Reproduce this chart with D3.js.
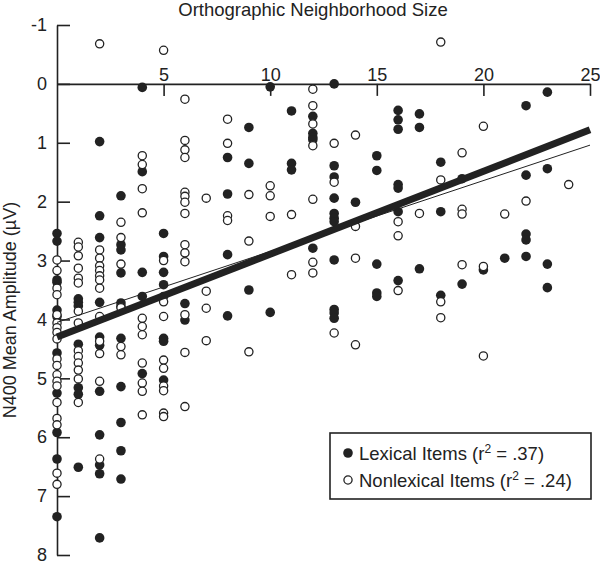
<!DOCTYPE html>
<html>
<head>
<meta charset="utf-8">
<script src="https://cdn.jsdelivr.net/npm/d3@7"></script>
<style>
  body { margin: 0; background: #fff; }
  text { font-family: "Liberation Sans", Arial, sans-serif; fill: #222; }
</style>
</head>
<body>
<div class="graphic"></div>
<script>
// [neighborhood size, N400 amplitude]
const lexical = [
  [0, 2.54], [0, 2.67], [0, 3.33], [0, 3.37], [0, 3.84], [0, 3.95], [0, 4.57], [0, 5.25], [0, 5.92], [0, 6.37], [0, 7.35],
  [1, 3.65], [1, 3.71], [1, 3.77], [1, 4.42], [1, 5.16], [1, 5.27], [1, 6.51],
  [2, 0.98], [2, 2.24], [2, 2.61], [2, 3.71], [2, 4.30], [2, 4.44], [2, 5.22], [2, 5.96], [2, 6.47], [2, 6.62], [2, 7.71],
  [3, 1.90], [3, 2.73], [3, 2.82], [3, 3.21], [3, 3.72], [3, 3.78], [3, 4.32], [3, 5.14], [3, 5.75], [3, 6.23], [3, 6.71],
  [4, 0.06], [4, 1.49], [4, 3.20], [4, 3.61], [4, 4.92],
  [5, 2.54], [5, 2.93], [5, 3.20], [5, 3.41], [5, 4.32], [5, 4.37], [5, 5.03],
  [6, 3.73], [6, 4.01],
  [8, 1.25], [8, 1.87], [8, 2.90], [8, 3.94],
  [9, 0.74], [9, 1.35], [9, 3.50],
  [10, 0.05], [10, 3.88],
  [11, 0.46], [11, 1.35], [11, 1.46],
  [12, 0.55], [12, 0.84], [12, 0.91], [12, 0.95], [12, 2.79],
  [13, 0.00], [13, 1.39], [13, 1.58], [13, 1.94], [13, 2.20], [13, 2.28], [13, 2.34], [13, 2.99], [13, 3.83], [13, 3.89], [13, 3.98],
  [14, 2.01],
  [15, 1.22], [15, 1.47], [15, 3.06], [15, 3.55], [15, 3.61],
  [16, 0.45], [16, 0.61], [16, 0.77], [16, 1.71], [16, 1.77], [16, 2.17], [16, 3.34],
  [17, 0.51], [17, 0.74], [17, 3.14],
  [18, 1.33], [18, 2.17], [18, 3.59],
  [19, 1.61], [19, 3.40],
  [20, 3.16],
  [21, 2.96],
  [22, 0.37], [22, 1.55], [22, 2.55], [22, 2.65], [22, 2.93],
  [23, 0.14], [23, 1.44], [23, 3.06], [23, 3.46]
];

const nonlexical = [
  [0, 2.99], [0, 3.17], [0, 3.47], [0, 3.58], [0, 3.92], [0, 4.06], [0, 4.14], [0, 4.22], [0, 4.33], [0, 4.67], [0, 4.78],
  [0, 4.94], [0, 5.05], [0, 5.13], [0, 5.41], [0, 5.68], [0, 5.79], [0, 6.61], [0, 6.80],
  [1, 2.69], [1, 2.77], [1, 2.92], [1, 3.13], [1, 3.30], [1, 3.38], [1, 3.86], [1, 4.06], [1, 4.53], [1, 4.63], [1, 4.74],
  [1, 4.86], [1, 5.01], [1, 5.41],
  [2, -0.68], [2, 2.82], [2, 2.96], [2, 3.09], [2, 3.17], [2, 3.26], [2, 3.33], [2, 3.47], [2, 3.95], [2, 4.37], [2, 4.58], [2, 5.05], [2, 6.37],
  [3, 2.35], [3, 2.61], [3, 3.06], [3, 3.80], [3, 4.46], [3, 4.60],
  [4, 1.22], [4, 1.37], [4, 1.78], [4, 2.19], [4, 3.98], [4, 4.12], [4, 4.26], [4, 4.74], [4, 5.08], [4, 5.22], [4, 5.62],
  [5, -0.57], [5, 3.00], [5, 3.61], [5, 3.70], [5, 3.95], [5, 4.69], [5, 4.83], [5, 5.13], [5, 5.21], [5, 5.59], [5, 5.65],
  [6, 0.26], [6, 0.96], [6, 1.12], [6, 1.25], [6, 1.84], [6, 1.91], [6, 2.01], [6, 2.20], [6, 2.73], [6, 2.87], [6, 3.02],
  [6, 3.92], [6, 4.56], [6, 5.48],
  [7, 1.94], [7, 3.52], [7, 3.81], [7, 4.36],
  [8, 0.60], [8, 1.01], [8, 2.24], [8, 2.32],
  [9, 1.88], [9, 2.67], [9, 4.55],
  [10, 1.73], [10, 1.90], [10, 2.25],
  [11, 2.22], [11, 3.24],
  [12, 0.09], [12, 0.37], [12, 0.68], [12, 1.05], [12, 1.96], [12, 3.03], [12, 3.21],
  [13, 1.01], [13, 1.67], [13, 4.23],
  [14, 0.87], [14, 2.42], [14, 2.96], [14, 4.43],
  [16, 2.34], [16, 2.58], [16, 3.51],
  [17, 2.20],
  [18, -0.71], [18, 1.63], [18, 3.70], [18, 3.97],
  [19, 1.17], [19, 2.13], [19, 2.21], [19, 3.07],
  [20, 0.72], [20, 3.10], [20, 4.62],
  [21, 2.21],
  [22, 1.99],
  [24, 1.71]
];

// regression lines: [value at x = 0, value at x = 25]
const lexicalFit = [4.30, 0.78];
const nonlexicalFit = [4.05, 1.04];

const xTicks = [5, 10, 15, 20, 25];
const yTicks = [-1, 0, 1, 2, 3, 4, 5, 6, 7, 8];
const legendLabels = [
  { text: 'Lexical Items (r', r2: ' = .37)', filled: true },
  { text: 'Nonlexical Items (r', r2: ' = .24)', filled: false }
];

const ink = '#222';

const svg = d3
  .select('.graphic')
  .append('svg')
  .attr('width', 600)
  .attr('height', 566);

const x = d3.scaleLinear().domain([0, 25]).range([57, 590]);
const y = d3.scaleLinear().domain([-1, 8]).range([25, 555]);

// x axis sits on the zero line, labels above, ticks pointing down
const xAxis = svg
  .append('g')
  .attr('transform', `translate(0,${y(0)})`)
  .call(
    d3.axisTop(x)
      .tickValues(xTicks)
      .tickSizeInner(-12)
      .tickSizeOuter(0)
      .tickPadding(3)
  );

const yAxis = svg
  .append('g')
  .attr('transform', `translate(${x(0)},0)`)
  .call(
    d3.axisLeft(y)
      .tickValues(yTicks)
      .tickFormat(d => d)
      .tickSizeInner(-13)
      .tickSizeOuter(0)
      .tickPadding(10)
  );

[xAxis, yAxis].forEach(g => {
  g.select('.domain').attr('stroke', ink).attr('stroke-width', 1.6);
  g.selectAll('.tick line').attr('stroke', ink).attr('stroke-width', 1.6);
  g.selectAll('.tick text')
    .attr('fill', ink)
    .style('font-size', '18px')
    .style('font-family', '"Liberation Sans", Arial, sans-serif');
});

svg
  .append('text')
  .attr('x', 313)
  .attr('y', 16)
  .attr('text-anchor', 'middle')
  .style('font-size', '18.5px')
  .text('Orthographic Neighborhood Size');

svg
  .append('text')
  .attr('transform', 'translate(16,310) rotate(-90)')
  .attr('text-anchor', 'middle')
  .style('font-size', '18px')
  .text('N400 Mean Amplitude (µV)');

// points
svg
  .selectAll('circle.lexical')
  .data(lexical)
  .enter()
  .append('circle')
  .attr('class', 'lexical')
  .attr('cx', d => x(d[0]))
  .attr('cy', d => y(d[1]))
  .attr('r', 4.8)
  .attr('fill', ink);

svg
  .selectAll('circle.nonlexical')
  .data(nonlexical)
  .enter()
  .append('circle')
  .attr('class', 'nonlexical')
  .attr('cx', d => x(d[0]))
  .attr('cy', d => y(d[1]))
  .attr('r', 4.1)
  .attr('fill', '#fff')
  .attr('stroke', ink)
  .attr('stroke-width', 1.3);

// regression lines
const fitLine = d3.line().x(d => x(d[0])).y(d => y(d[1]));

svg
  .append('path')
  .datum([[0, nonlexicalFit[0]], [25, nonlexicalFit[1]]])
  .attr('d', fitLine)
  .attr('fill', 'none')
  .attr('stroke', ink)
  .attr('stroke-width', 1);

svg
  .append('path')
  .datum([[0, lexicalFit[0]], [25, lexicalFit[1]]])
  .attr('d', fitLine)
  .attr('fill', 'none')
  .attr('stroke', ink)
  .attr('stroke-width', 7);

// legend
const legend = svg.append('g').attr('transform', 'translate(330,433)');

legend
  .append('rect')
  .attr('width', 261)
  .attr('height', 66)
  .attr('fill', '#fff')
  .attr('stroke', ink)
  .attr('stroke-width', 1.6);

const items = legend
  .selectAll('g.item')
  .data(legendLabels)
  .enter()
  .append('g')
  .attr('class', 'item')
  .attr('transform', (d, i) => `translate(0,${20 + i * 27})`);

items
  .append('circle')
  .attr('cx', 18)
  .attr('cy', 0)
  .attr('r', d => (d.filled ? 4.8 : 4.1))
  .attr('fill', d => (d.filled ? ink : '#fff'))
  .attr('stroke', ink)
  .attr('stroke-width', d => (d.filled ? 0 : 1.3));

const label = items
  .append('text')
  .attr('x', 29)
  .attr('y', 7)
  .style('font-size', '18.5px');

label.append('tspan').text(d => d.text);
label.append('tspan').attr('dy', -7).style('font-size', '12px').text('2');
label.append('tspan').attr('dy', 7).text(d => d.r2);
</script>
</body>
</html>
